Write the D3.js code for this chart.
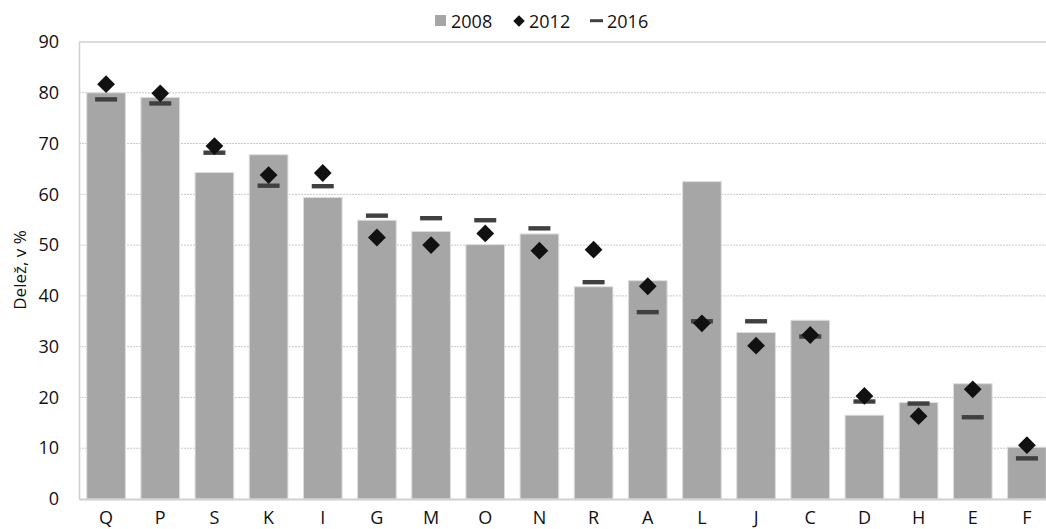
<!DOCTYPE html>
<html>
<head>
<meta charset="utf-8">
<script src="https://cdn.jsdelivr.net/npm/d3@7"></script>
<style>
  body { margin: 0; background: #fff; }
  text { font-family: "Open Sans", "Noto Sans", sans-serif; fill: #111; }
</style>
</head>
<body>
<div id="graph"></div>
<script>
var categories = ["Q","P","S","K","I","G","M","O","N","R","A","L","J","C","D","H","E","F"]
var values2008 = [80.0, 79.1, 64.3, 67.8, 59.4, 54.9, 52.7, 50.1, 52.2, 41.8, 43.0, 62.5, 32.8, 35.2, 16.5, 19.0, 22.7, 10.2]
var values2012 = [81.7, 79.9, 69.5, 63.8, 64.2, 51.5, 50.0, 52.3, 48.9, 49.1, 41.9, 34.6, 30.2, 32.3, 20.3, 16.3, 21.6, 10.6]
var values2016 = [78.7, 77.9, 68.2, 61.7, 61.6, 55.8, 55.3, 54.9, 53.3, 42.7, 36.8, 35.0, 35.0, 32.0, 19.2, 18.8, 16.1, 8.0]
var yTicks = [0, 10, 20, 30, 40, 50, 60, 70, 80, 90]
var seriesNames = ["2008", "2012", "2016"]

var W = 1046, H = 529
var margin = {top: 42, right: -8, bottom: 30, left: 79}
var width = W - margin.left - margin.right,
  height = H - margin.top - margin.bottom

var svg = d3.select('#graph').append('svg')
  .attr('width', W).attr('height', H)

var g = svg.append('g')
  .attr('transform', 'translate(' + margin.left + ',' + margin.top + ')')

var x = d3.scaleBand()
  .domain(categories)
  .range([0, width])
  .paddingInner(0.286)
  .paddingOuter(0.143)
var y = d3.scaleLinear()
  .domain([0, 90])
  .range([height, 0])

// gridlines
g.selectAll('.grid')
  .data(yTicks.filter(function(t){ return t > 0 && t < 90 }))
  .enter().append('line')
  .attr('x1', 0).attr('x2', width)
  .attr('y1', function(d){ return y(d) }).attr('y2', function(d){ return y(d) })
  .attr('stroke', '#c8c8c8')
  .attr('stroke-dasharray', '2,1')
  .attr('stroke-width', 1)

g.append('line')
  .attr('x1', 0).attr('x2', width)
  .attr('y1', y(90)).attr('y2', y(90))
  .attr('stroke', '#d0d0d0').attr('stroke-width', 1.5)

// bars 2008
g.selectAll('.bar')
  .data(values2008)
  .enter().append('rect')
  .attr('class', 'bar')
  .attr('x', function(d, i){ return x(categories[i]) })
  .attr('width', x.bandwidth())
  .attr('y', function(d){ return y(d) })
  .attr('height', function(d){ return height - y(d) })
  .attr('fill', '#a6a6a6')
  .attr('stroke', '#dedede')
  .attr('stroke-width', 1)

// 2016 dashes
g.selectAll('.dash')
  .data(values2016)
  .enter().append('rect')
  .attr('x', function(d, i){ return x(categories[i]) + x.bandwidth()/2 - 11 })
  .attr('y', function(d){ return y(d) - 2.2 })
  .attr('width', 22).attr('height', 4.4)
  .attr('fill', '#404040')

// 2012 diamonds
var diamond = d3.symbol().type(d3.symbolSquare).size(158)
g.selectAll('.dia')
  .data(values2012)
  .enter().append('path')
  .attr('d', diamond)
  .attr('transform', function(d, i){
    return 'translate(' + (x(categories[i]) + x.bandwidth()/2) + ',' + y(d) + ') rotate(45)'
  })
  .attr('fill', '#111')

// axes
var yAxis = g.append('g')
  .call(d3.axisLeft(y).tickValues(yTicks).tickSize(0).tickPadding(20))
yAxis.select('.domain').attr('stroke', '#d0d0d0').attr('stroke-width', 1.5)
yAxis.selectAll('text').style('font-size', '18px').attr('fill', '#111')

var xAxis = g.append('g')
  .attr('transform', 'translate(0,' + height + ')')
  .call(d3.axisBottom(x).tickSize(0).tickPadding(12))
xAxis.select('.domain').attr('stroke', '#d0d0d0').attr('stroke-width', 2)
xAxis.selectAll('text').style('font-size', '18px').attr('fill', '#111')

// y title
svg.append('text')
  .attr('transform', 'translate(26,270) rotate(-90)')
  .attr('text-anchor', 'middle')
  .style('font-size', '17px')
  .text('Delež, v %')

// legend
var leg = svg.append('g').attr('transform', 'translate(0,28)')
leg.append('rect').attr('x', 435).attr('y', -13).attr('width', 11).attr('height', 11).attr('fill', '#a6a6a6')
leg.append('text').attr('x', 451).attr('y', 0).style('font-size', '18px').text(seriesNames[0])
leg.append('path').attr('d', d3.symbol().type(d3.symbolSquare).size(66))
  .attr('transform', 'translate(519,-7) rotate(45)').attr('fill', '#111')
leg.append('text').attr('x', 529).attr('y', 0).style('font-size', '18px').text(seriesNames[1])
leg.append('rect').attr('x', 590).attr('y', -8.8).attr('width', 13).attr('height', 3).attr('fill', '#404040')
leg.append('text').attr('x', 607).attr('y', 0).style('font-size', '18px').text(seriesNames[2])
</script>
</body>
</html>
